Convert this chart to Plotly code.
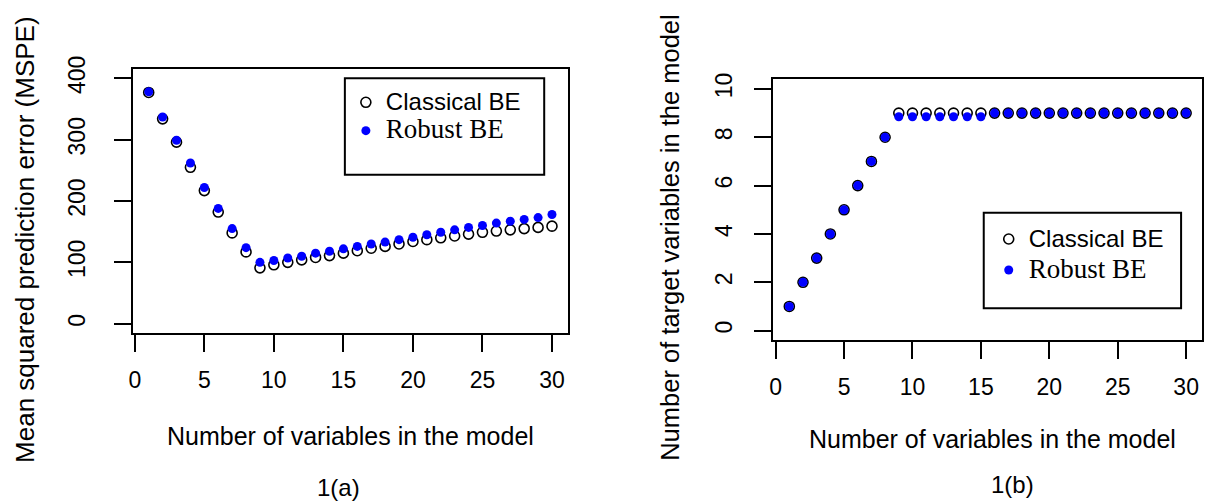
import plotly.graph_objects as go

n_vars = list(range(1, 31))

mspe_classical = [377, 334, 296, 255, 217, 182, 148, 117, 91, 96,
                  100, 104, 108, 111, 115, 119, 123, 126, 130, 134,
                  137, 140, 143, 146, 149, 151, 153, 155, 157, 159]
mspe_robust = [378, 337, 299, 262, 222, 188, 155, 124, 100, 103,
               107, 110, 115, 118, 122, 126, 130, 133, 137, 141,
               145, 149, 153, 157, 160, 164, 167, 170, 173, 178]

target_classical = [1, 2, 3, 4, 5, 6, 7, 8] + [9] * 22
target_robust = [1, 2, 3, 4, 5, 6, 7, 8] + [8.85] * 7 + [9] * 15

x_ticks = [0, 5, 10, 15, 20, 25, 30]
y1_ticks = [0, 100, 200, 300, 400]
y2_ticks = [0, 2, 4, 6, 8, 10]

W, H = 1207, 503
SANS = "Liberation Sans, Arial, sans-serif"
SERIF = "Liberation Serif, Times New Roman, serif"

def px(x):
    return x / W

def py(y):
    return 1 - y / H

name_classical = f'<span style="font-family:{SANS};font-size:24px">Classical BE</span>'
name_robust = f'<span style="font-family:{SERIF};font-size:27px">Robust BE</span>'

fig = go.Figure()

classical_marker = dict(symbol="circle-open", color="black", size=10, line=dict(width=1.6, color="black"))
robust_marker = dict(symbol="circle", color="#0000FF", size=9)

fig.add_trace(go.Scatter(x=n_vars, y=mspe_classical, mode="markers", marker=classical_marker,
                         name=name_classical, xaxis="x", yaxis="y", legend="legend"))
fig.add_trace(go.Scatter(x=n_vars, y=mspe_robust, mode="markers", marker=robust_marker,
                         name=name_robust, xaxis="x", yaxis="y", legend="legend"))
fig.add_trace(go.Scatter(x=n_vars, y=target_classical, mode="markers", marker=classical_marker,
                         name=name_classical, xaxis="x2", yaxis="y2", legend="legend2"))
fig.add_trace(go.Scatter(x=n_vars, y=target_robust, mode="markers", marker=robust_marker,
                         name=name_robust, xaxis="x2", yaxis="y2", legend="legend2"))

tickfont = dict(family=SANS, size=23, color="black")
common_axis = dict(showgrid=False, zeroline=False, showline=True, mirror=True,
                   linecolor="black", linewidth=2, ticks="outside", ticklen=17,
                   tickwidth=2, tickcolor="black", tickfont=tickfont)

fig.update_layout(
    width=W, height=H,
    margin=dict(l=0, r=0, t=0, b=0),
    paper_bgcolor="white", plot_bgcolor="white",
    xaxis=dict(domain=[px(129), px(566)], range=[-0.16, 31.16], tickvals=x_ticks,
               anchor="y", ticklabelstandoff=8, **common_axis),
    yaxis=dict(domain=[py(329), py(57)], range=[-16, 416], tickvals=y1_ticks,
               anchor="x", tickangle=-90, ticklabelstandoff=19, **common_axis),
    xaxis2=dict(domain=[px(772), px(1202)], range=[-0.16, 31.16], tickvals=x_ticks,
                anchor="y2", ticklabelstandoff=8, **common_axis),
    yaxis2=dict(domain=[py(336), py(68)], range=[-0.4, 10.4], tickvals=y2_ticks,
                anchor="x2", tickangle=-90, ticklabelstandoff=13, **common_axis),
    legend=dict(x=px(343), y=py(72), xanchor="left", yanchor="top",
                bgcolor="rgba(0,0,0,0)", borderwidth=0,
                font=dict(family=SANS, size=19.5, color="black")),
    legend2=dict(x=px(988), y=py(211), xanchor="left", yanchor="top",
                 bgcolor="rgba(0,0,0,0)", borderwidth=0,
                 font=dict(family=SANS, size=21.5, color="black")),
    showlegend=True,
)

# legend frames
fig.add_shape(type="rect", xref="paper", yref="paper",
              x0=px(342), x1=px(542), y0=py(166), y1=py(67),
              line=dict(color="black", width=2))
fig.add_shape(type="rect", xref="paper", yref="paper",
              x0=px(983), x1=px(1181), y0=py(303), y1=py(205),
              line=dict(color="black", width=2))

title_font = dict(family=SANS, size=25, color="black")
ann = [
    dict(text="Mean squared prediction error (MSPE)", x=px(21), y=py(232), textangle=-90,
         font=dict(family=SANS, size=26, color="black")),
    dict(text="Number of target variables in the model", x=px(668), y=py(231), textangle=-90,
         font=dict(family=SANS, size=25.5, color="black")),
    dict(text="Number of variables in the model", x=px(348), y=py(434), font=title_font),
    dict(text="Number of variables in the model", x=px(992), y=py(437), font=title_font),
    dict(text="1(a)", x=px(336), y=py(487), font=dict(family=SANS, size=24, color="black")),
    dict(text="1(b)", x=px(1012), y=py(484), font=dict(family=SANS, size=24, color="black")),
]
for a in ann:
    fig.add_annotation(xref="paper", yref="paper", xanchor="center", yanchor="middle",
                       showarrow=False, **a)

fig.write_html("out.html")
